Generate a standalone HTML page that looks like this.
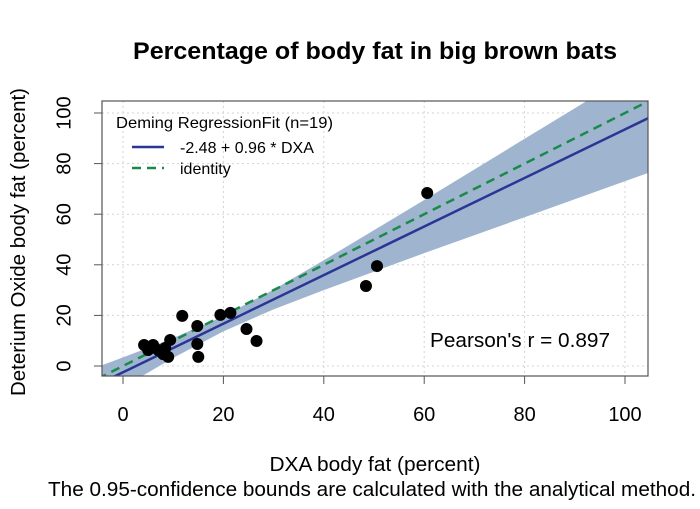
<!DOCTYPE html>
<html><head><meta charset="utf-8"><style>
body{margin:0;background:#fff;}
svg text{font-family:"Liberation Sans",Arial,sans-serif;}
</style></head><body>
<svg width="700" height="504" viewBox="0 0 700 504" xmlns="http://www.w3.org/2000/svg">
<defs><clipPath id="pc"><rect x="102" y="101" width="546" height="275"/></clipPath></defs>
<text x="375" y="59" text-anchor="middle" font-size="24" font-weight="bold" textLength="484" lengthAdjust="spacingAndGlyphs">Percentage of body fat in big brown bats</text>
<g id="grid"></g>
<g id="band" clip-path="url(#pc)"></g>
<g id="lines" clip-path="url(#pc)"></g>
<g id="pts"></g>
<rect x="102" y="101" width="546" height="275" fill="none" stroke="#555" stroke-width="1.2"/>
<g id="axes"></g>
<text x="25" y="242" transform="rotate(-90 25 242)" text-anchor="middle" font-size="20" textLength="308" lengthAdjust="spacingAndGlyphs">Deterium Oxide body fat (percent)</text>
<text x="375" y="471" text-anchor="middle" font-size="20" textLength="211" lengthAdjust="spacingAndGlyphs">DXA body fat (percent)</text>
<text x="48" y="496" font-size="20" textLength="648" lengthAdjust="spacingAndGlyphs">The 0.95-confidence bounds are calculated with the analytical method.</text>
<g>
<text x="116" y="128" font-size="16" textLength="217" lengthAdjust="spacingAndGlyphs">Deming RegressionFit (n=19)</text>
<line x1="132" y1="147" x2="164" y2="147" stroke="#2b3595" stroke-width="2.5"/>
<text x="180" y="153" font-size="16">-2.48 + 0.96 * DXA</text>
<line x1="132" y1="168" x2="164" y2="168" stroke="#1a8a4a" stroke-width="2.5" stroke-dasharray="9,6"/>
<text x="180" y="174" font-size="16">identity</text>
</g>
<text x="430" y="347" font-size="20" textLength="180" lengthAdjust="spacingAndGlyphs">Pearson's r = 0.897</text>
</svg>
<script>
const xTicks=[0,20,40,60,80,100];
const yTicks=[0,20,40,60,80,100];
const ptX=[4.2,6,5,7,8,9,9.4,11.8,14.8,14.8,15,19.4,21.4,24.6,26.6,48.4,50.6,60.6,8.4];
const ptY=[8.3,8.3,6.3,6.3,4.7,3.6,10.3,19.8,15.8,8.7,3.6,20.2,21,14.6,9.9,31.6,39.5,68.4,7.1];
const bandX=[-5,0,10,20,30,40,60,80,105];
const bandLo=[-14.3,-8.4,3.2,13.7,22.4,30.0,44.6,58.8,76.6];
const bandHi=[-0.3,3.4,11.0,19.7,30.2,41.8,65.6,89.8,120.0];
const fitA=-2.48, fitB=0.96;
const sx=v=>123+v*5.02, sy=v=>366-v*2.53;
const NS='http://www.w3.org/2000/svg';
function mk(t,a,p){const e=document.createElementNS(NS,t);for(const k in a)e.setAttribute(k,a[k]);p.appendChild(e);return e;}
const grid=document.getElementById('grid'),axes=document.getElementById('axes');
xTicks.forEach(v=>{
 const g=mk('line',{x1:sx(v),x2:sx(v),y1:101,y2:376,stroke:'#d3d3d3','stroke-dasharray':'2,3'},grid);
 
 
 const t=mk('line',{x1:sx(v),x2:sx(v),y1:376,y2:384,stroke:'#555'},axes);
 
 
 const l=mk('text',{x:sx(v),y:421,'text-anchor':'middle','font-size':20},axes);l.textContent=v;
 
 
});
yTicks.forEach(v=>{
 const g=mk('line',{x1:102,x2:648,y1:sy(v),y2:sy(v),stroke:'#d3d3d3','stroke-dasharray':'2,3'},grid);
 
 
 const t=mk('line',{x1:94,x2:102,y1:sy(v),y2:sy(v),stroke:'#555'},axes);
 
 
 const l=mk('text',{x:65,y:sy(v),'text-anchor':'middle','font-size':20,transform:`rotate(-90 65 ${sy(v)})`,'dominant-baseline':'middle'},axes);l.textContent=v;
 
 
});
let d='M'+bandX.map((x,i)=>sx(x)+','+sy(bandHi[i])).join('L')+'L'+bandX.slice().reverse().map((x,i)=>sx(x)+','+sy(bandLo[bandX.length-1-i])).join('L')+'Z';
const b=mk('path',{d:d,fill:'#9fb5cf'},document.getElementById('band'));


const L=document.getElementById('lines');
const id=mk('line',{x1:sx(-5),y1:sy(-5),x2:sx(106),y2:sy(106),stroke:'#1a8a4a','stroke-width':2.5,'stroke-dasharray':'9,6'},L);


const fl=mk('line',{x1:sx(-5),y1:sy(fitA+fitB*-5),x2:sx(106),y2:sy(fitA+fitB*106),stroke:'#2b3595','stroke-width':2.5},L);


const P=document.getElementById('pts');
ptX.forEach((x,i)=>{const c=mk('circle',{cx:sx(x),cy:sy(ptY[i]),r:6,fill:'#000'},P);
 
 });
</script>
</body></html>
